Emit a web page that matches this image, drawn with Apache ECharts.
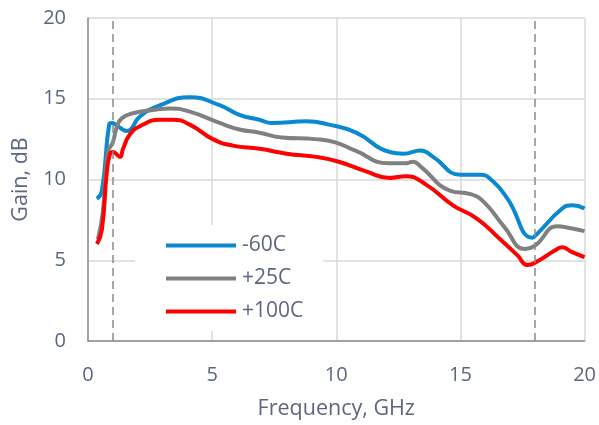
<!DOCTYPE html>
<html><head><meta charset="utf-8">
<script src="https://cdn.jsdelivr.net/npm/echarts@6/dist/echarts.min.js"></script>
<style>html,body{margin:0;padding:0;background:#fff}#c{width:599px;height:425px}</style>
</head><body><div id="c"></div>
<script>
const seriesNames = ['-60C', '+25C', '+100C'];
const freqM60 = [0.36, 0.56, 0.85, 0.97, 1.2, 1.57, 2.09, 2.9, 4.1, 5.3, 6.1, 6.9, 7.4, 8.8, 9.7, 10.8, 12.15, 12.7, 13.4, 13.9, 15.0, 15.8, 16.3, 16.9, 17.9, 18.07, 19.1, 19.5, 20.0];
const gainM60 = [8.8, 9.3, 13.4, 13.5, 13.3, 13.0, 13.9, 14.6, 15.1, 14.6, 14.0, 13.7, 13.5, 13.6, 13.4, 12.9, 11.7, 11.6, 11.8, 11.4, 10.3, 10.3, 9.9, 8.8, 6.4, 6.6, 8.2, 8.4, 8.2];
const freqP25 = [0.4, 0.6, 0.8, 1.0, 1.17, 1.37, 1.81, 2.6, 3.3, 4.1, 5.3, 6.1, 6.9, 7.8, 9.15, 9.96, 10.75, 12.1, 12.75, 13.1, 13.4, 14.6, 15.4, 15.95, 16.75, 17.6, 18.0, 18.9, 19.4, 20.0];
const gainP25 = [6.3, 8.0, 11.7, 12.3, 13.3, 13.8, 14.1, 14.3, 14.4, 14.2, 13.5, 13.1, 12.9, 12.6, 12.5, 12.3, 11.8, 11.0, 11.0, 11.1, 10.8, 9.3, 9.1, 8.6, 7.1, 5.7, 5.9, 7.1, 7.0, 6.8];
const freqP100 = [0.36, 0.56, 0.76, 0.89, 1.0, 1.29, 1.41, 1.69, 2.09, 2.9, 3.42, 4.1, 5.03, 5.83, 6.92, 8.0, 9.2, 10.1, 11.2, 12.15, 12.8, 13.6, 14.7, 15.65, 16.6, 17.3, 17.7, 18.07, 18.9, 19.1, 19.5, 20.0];
const gainP100 = [6.0, 6.9, 10.5, 11.6, 11.7, 11.4, 11.9, 12.8, 13.3, 13.7, 13.7, 13.4, 12.5, 12.1, 11.9, 11.6, 11.4, 11.1, 10.5, 10.1, 10.2, 9.7, 8.4, 7.6, 6.3, 5.3, 4.7, 4.9, 5.7, 5.8, 5.5, 5.2];
const markerFreqs = [1, 18];
const xTicks = [0, 5, 10, 15, 20];
const yTicks = [0, 5, 10, 15, 20];

const colors = ['#0a88d0', '#808080', '#ff0000'];
const txt = '#5b6680';
const font = 'Open Sans';
const zip = (xs, ys) => xs.map((x, i) => [x, ys[i]]);
const allData = [zip(freqM60, gainM60), zip(freqP25, gainP25), zip(freqP100, gainP100)];

const chart = echarts.init(document.getElementById('c'), null, {renderer: 'canvas'});
const series = allData.map((d, i) => ({
  name: seriesNames[i], type: 'line', data: d, smooth: 0.5,
  showSymbol: false, symbol: 'none', lineStyle: {color: colors[i], width: 4}, itemStyle: {color: colors[i]}, z: 3
}));
series[0].markLine = {
  silent: true, symbol: ['none', 'none'], label: {show: false},
  lineStyle: {color: '#8a8a8a', type: [8, 5], width: 1.5},
  data: markerFreqs.map(f => ({xAxis: f}))
};
chart.setOption({
  animation: false,
  color: colors,
  grid: {left: 88, right: 14, top: 18, bottom: 82},
  legend: {
    orient: 'vertical', left: 135, top: 225,
    padding: [10, 20, 9, 31], itemGap: 12, itemWidth: 70, itemHeight: 4,
    backgroundColor: '#fff', icon: 'rect',
    textStyle: {color: txt, fontFamily: font, fontSize: 21, padding: [0, 0, 0, 1]},
    data: seriesNames
  },
  xAxis: {
    type: 'value', min: xTicks[0], max: xTicks[xTicks.length - 1], interval: 5,
    name: 'Frequency, GHz', nameLocation: 'middle', nameGap: 57,
    nameTextStyle: {color: txt, fontFamily: font, fontSize: 21.5},
    axisLine: {show: true, onZero: false, lineStyle: {color: '#8c8c8c', width: 1.5}},
    axisTick: {show: false},
    axisLabel: {color: txt, fontFamily: font, fontSize: 20, margin: 24},
    splitLine: {show: true, lineStyle: {color: '#d9d9d9', width: 1.5}}
  },
  yAxis: {
    type: 'value', min: yTicks[0], max: yTicks[yTicks.length - 1], interval: 5,
    name: 'Gain, dB', nameLocation: 'middle', nameGap: 55,
    nameTextStyle: {color: txt, fontFamily: font, fontSize: 21.5},
    axisLine: {show: true, lineStyle: {color: '#8c8c8c', width: 1.5}},
    axisTick: {show: false},
    axisLabel: {color: txt, fontFamily: font, fontSize: 20, margin: 22},
    splitLine: {show: true, lineStyle: {color: '#d9d9d9', width: 1.5}}
  },
  series: series
});
</script></body></html>
